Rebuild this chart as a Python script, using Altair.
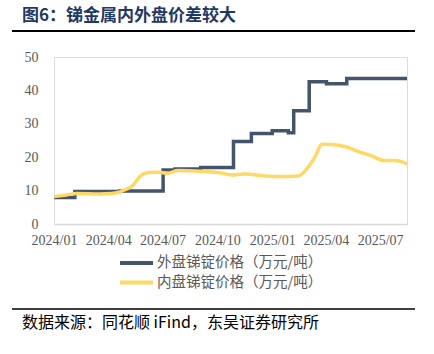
import altair as alt
import pandas as pd

# ---------------- data ----------------
series_names = ["外盘锑锭价格（万元/吨）", "内盘锑锭价格（万元/吨）"]
series_colors = ["#44546A", "#FFD966"]

ext_dates = ["2024-01-01", "2024-02-05", "2024-04-20", "2024-07-02", "2024-07-22",
             "2024-09-03", "2024-10-28", "2024-11-27", "2025-01-01", "2025-01-28",
             "2025-02-06", "2025-03-04", "2025-04-02", "2025-05-06", "2025-08-15"]
ext_vals = [7.9, 9.7, 9.9, 16.2, 16.5, 16.9, 24.7, 27.1, 27.9, 27.3,
            33.9, 42.6, 42.0, 43.6, 43.6]

dom_dates = ["2024-01-01", "2024-01-22", "2024-02-08", "2024-03-18", "2024-04-06",
             "2024-04-20", "2024-04-28", "2024-05-13", "2024-05-24", "2024-06-07",
             "2024-06-24", "2024-07-10", "2024-07-27", "2024-09-03",
             "2024-09-20", "2024-10-07", "2024-10-24", "2024-11-16", "2024-12-19",
             "2025-01-11", "2025-02-14", "2025-03-03", "2025-03-14", "2025-03-25",
             "2025-04-11", "2025-05-03", "2025-05-25", "2025-06-17", "2025-07-07",
             "2025-07-26", "2025-08-15"]
dom_vals = [8.2, 8.7, 9.1, 9.0, 9.1,
            9.6, 10.2, 11.7, 14.2, 15.4,
            15.5, 15.2, 16.0, 15.8,
            15.6, 15.3, 14.7, 15.0, 14.4,
            14.2, 14.4, 17.2, 20.2, 23.9,
            23.8, 23.2, 21.7, 20.4, 19.0,
            19.0, 18.0]

x_tick_months = [(2024, 1), (2024, 4), (2024, 7), (2024, 10), (2025, 1), (2025, 4), (2025, 7)]
y_ticks = [0, 10, 20, 30, 40, 50]

title_text = "图6：锑金属内外盘价差较大"
source_text = "数据来源：同花顺 iFind，东吴证券研究所"

ext_df = pd.DataFrame({"date": [d + "T00:00:00" for d in ext_dates], "value": ext_vals,
                       "series": series_names[0]})
dom_df = pd.DataFrame({"date": [d + "T00:00:00" for d in dom_dates], "value": dom_vals,
                       "series": series_names[1]})

# ---------------- layout ----------------
PL, PT, W, H = 54, 57, 353, 167
GRAY = "#595959"
SERIF = "Liberation Serif"
CJK = "Noto Sans CJK SC"

x_enc = alt.X(
    "date:T",
    title=None,
    scale=alt.Scale(domain=[alt.DateTime(year=2024, month=1, date=1),
                            alt.DateTime(year=2025, month=8, date=15)]),
    axis=alt.Axis(
        values=[alt.DateTime(year=y, month=m, date=1) for y, m in x_tick_months],
        format="%Y/%m", labelFont=SERIF, labelFontSize=14, labelColor=GRAY,
        ticks=False, grid=False, domainColor="#D9D9D9", domainWidth=1.5,
        labelPadding=9, labelOverlap=False, labelFlush=False,
    ),
)
y_enc = alt.Y(
    "value:Q",
    title=None,
    scale=alt.Scale(domain=[0, 50], nice=False, zero=True),
    axis=alt.Axis(values=y_ticks, labelFont=SERIF, labelFontSize=14, labelColor=GRAY,
                  ticks=False, grid=False, domain=False, labelPadding=16,
                  labelOverlap=False, labelFlush=False),
)
color_scale = alt.Scale(domain=series_names, range=series_colors)

ext_line = alt.Chart(ext_df).mark_line(strokeWidth=3.5, interpolate="step-after").encode(
    x=x_enc, y=y_enc, color=alt.Color("series:N", scale=color_scale, legend=None))
dom_line = alt.Chart(dom_df).mark_line(strokeWidth=3.5, interpolate="monotone").encode(
    x=x_enc, y=y_enc, color=alt.Color("series:N", scale=color_scale, legend=None))

# legend (manual)
leg_layers = []
for i, (name, col) in enumerate(zip(series_names, series_colors)):
    yy = 206 + i * 19.5
    leg_layers.append(alt.Chart(pd.DataFrame({"a": [0]})).mark_rule(
        color=col, strokeWidth=4).encode(
        x=alt.value(66), x2=alt.value(99), y=alt.value(yy)))
    leg_layers.append(alt.Chart(pd.DataFrame({"a": [0]})).mark_text(
        text=name, font=CJK, fontSize=14.5, color=GRAY, align="left", baseline="middle").encode(
        x=alt.value(103), y=alt.value(yy)))

deco_df = pd.DataFrame({"a": [0]})
title_mark = alt.Chart(deco_df).mark_text(
    text=title_text, font=CJK, fontSize=17, fontWeight="bold", color="#1F3864",
    align="left", baseline="middle").encode(x=alt.value(-32), y=alt.value(-41))
top_rule = alt.Chart(deco_df).mark_rule(color="#000000", strokeWidth=2).encode(
    x=alt.value(-42), x2=alt.value(361), y=alt.value(-26))
bot_rule = alt.Chart(deco_df).mark_rule(color="#000000", strokeWidth=1.5).encode(
    x=alt.value(-42), x2=alt.value(361), y=alt.value(252))
source_mark = alt.Chart(deco_df).mark_text(
    text=source_text, font=CJK, fontSize=16, color="#000000",
    align="left", baseline="middle").encode(x=alt.value(-32), y=alt.value(266))

chart = alt.layer(ext_line, dom_line, *leg_layers, title_mark, top_rule, bot_rule, source_mark).properties(
    width=W, height=H,
    autosize=alt.AutoSizeParams(type="none"),
    padding={"left": PL, "top": PT, "right": 434 - PL - W, "bottom": 354 - PT - H},
).configure_view(stroke=None).configure(background="#FFFFFF")

chart.save("out.html", embed_options={"renderer": "svg", "actions": False})
